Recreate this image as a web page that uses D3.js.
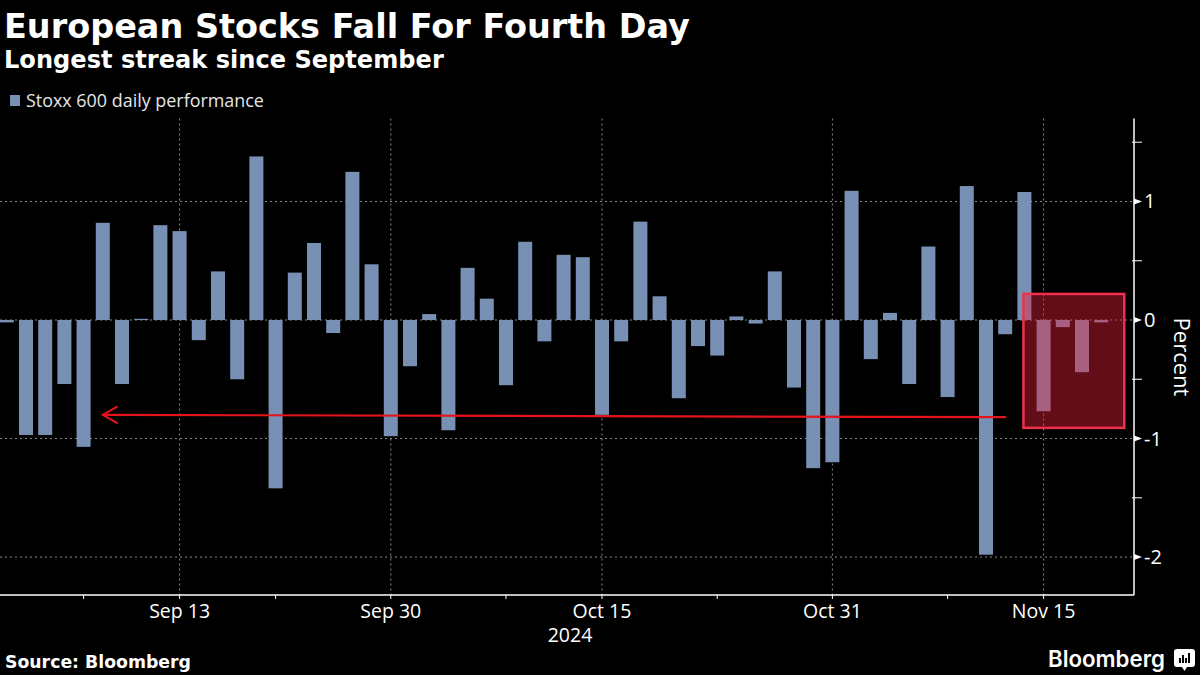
<!DOCTYPE html>
<html>
<head>
<meta charset="utf-8">
<script src="https://cdn.jsdelivr.net/npm/d3@7"></script>
<style>
  html, body { margin: 0; padding: 0; background: #000; }
  svg { display: block; }
</style>
</head>
<body>
<svg id="chart" width="1200" height="675"></svg>
<script>
// ---- Data ----
const dates = [
  "2024-09-02","2024-09-03","2024-09-04","2024-09-05","2024-09-06",
  "2024-09-09","2024-09-10","2024-09-11","2024-09-12","2024-09-13",
  "2024-09-16","2024-09-17","2024-09-18","2024-09-19","2024-09-20",
  "2024-09-23","2024-09-24","2024-09-25","2024-09-26","2024-09-27",
  "2024-09-30",
  "2024-10-01","2024-10-02","2024-10-03","2024-10-04",
  "2024-10-07","2024-10-08","2024-10-09","2024-10-10","2024-10-11",
  "2024-10-14","2024-10-15","2024-10-16","2024-10-17","2024-10-18",
  "2024-10-21","2024-10-22","2024-10-23","2024-10-24","2024-10-25",
  "2024-10-28","2024-10-29","2024-10-30","2024-10-31",
  "2024-11-01","2024-11-04","2024-11-05","2024-11-06","2024-11-07","2024-11-08",
  "2024-11-11","2024-11-12","2024-11-13","2024-11-14","2024-11-15",
  "2024-11-18","2024-11-19","2024-11-20"
];
const stoxx600 = [
  -0.02,-0.97,-0.97,-0.54,-1.07,
  0.82,-0.54,0.01,0.80,0.75,
  -0.17,0.41,-0.50,1.38,-1.42,
  0.40,0.65,-0.11,1.25,0.47,
  -0.98,
  -0.39,0.05,-0.93,0.44,
  0.18,-0.55,0.66,-0.18,0.55,
  0.53,-0.80,-0.18,0.83,0.20,
  -0.66,-0.22,-0.30,0.03,-0.03,
  0.41,-0.57,-1.25,-1.20,
  1.09,-0.33,0.06,-0.54,0.62,-0.65,
  1.13,-1.98,-0.12,1.08,-0.77,
  -0.06,-0.44,-0.02
];
const xMajorTicks = ["2024-09-13","2024-09-30","2024-10-15","2024-10-31","2024-11-15"];
const xMajorLabels = ["Sep 13","Sep 30","Oct 15","Oct 31","Nov 15"];
const xMinorTicks = ["2024-09-06","2024-09-20","2024-10-08","2024-10-23","2024-11-08"];
const yMajorTicks = [1, 0, -1, -2];
const yMinorTicks = [1.5, 0.5, -0.5, -1.5];
const yearLabel = "2024";
// annotation: arrow from the latest streak back to the September streak
const arrowFrom = {date: "2024-11-13", value: -0.82};
const arrowTo = {date: "2024-09-09", value: -0.80};
// highlight box (index span, value span)
const boxSpan = {i0: 52.95, i1: 58.2, v0: 0.22, v1: -0.91};

// ---- Layout ----
const W = 1200, H = 675;
const plotTop = 118.5, plotBottom = 595, plotLeft = 0, plotRight = 1134;
const barColor = "#7790b4";
const gridColor = "#8a8a8a";

const svg = d3.select("#chart");
svg.append("rect").attr("width", W).attr("height", H).attr("fill", "#000");

const idx = new Map(dates.map((d, i) => [d, i]));
const x = d3.scaleLinear().domain([0, dates.length - 1]).range([6.8, 1101.2]);
const y = d3.scaleLinear().domain([-2.32, 1.70]).range([plotBottom, plotTop]);
const barW = 14;

function fit(sel, target) {
  const n = sel.node();
  const w = n.getComputedTextLength();
  const fs = parseFloat(sel.attr("font-size"));
  sel.attr("font-size", fs * target / w);
}

// Titles
const t1 = svg.append("text").attr("x", 4).attr("y", 38)
  .attr("font-family", "DejaVu Sans, Verdana, sans-serif").attr("font-weight", "bold")
  .attr("font-size", 30).attr("fill", "#fff").text("European Stocks Fall For Fourth Day");
fit(t1, 686);
const t2 = svg.append("text").attr("x", 4).attr("y", 68)
  .attr("font-family", "DejaVu Sans, Verdana, sans-serif").attr("font-weight", "bold")
  .attr("font-size", 22).attr("fill", "#fff").text("Longest streak since September");
fit(t2, 440);

// Legend
svg.append("rect").attr("x", 10).attr("y", 95).attr("width", 10).attr("height", 11).attr("fill", barColor);
const lg = svg.append("text").attr("x", 26).attr("y", 107)
  .attr("font-family", "Open Sans, Noto Sans, sans-serif")
  .attr("font-size", 16).attr("fill", "#e6e6e6").text("Stoxx 600 daily performance");
fit(lg, 238);

// Grid
const grid = svg.append("g");
grid.selectAll("line.h").data(yMajorTicks).join("line")
  .attr("x1", plotLeft).attr("x2", plotRight)
  .attr("y1", d => y(d)).attr("y2", d => y(d))
  .attr("stroke", gridColor).attr("stroke-width", 1).attr("stroke-dasharray", "2,3");
grid.selectAll("line.v").data(xMajorTicks).join("line")
  .attr("x1", d => x(idx.get(d))).attr("x2", d => x(idx.get(d)))
  .attr("y1", plotTop).attr("y2", plotBottom)
  .attr("stroke", gridColor).attr("stroke-width", 1).attr("stroke-dasharray", "2,3");

// Bars
svg.append("g").selectAll("rect").data(stoxx600).join("rect")
  .attr("x", (d, i) => x(i) - barW / 2)
  .attr("width", barW)
  .attr("y", d => y(Math.max(0, d)))
  .attr("height", d => Math.abs(y(d) - y(0)))
  .attr("fill", barColor);

// X axis
const xa = svg.append("g");
xa.append("line").attr("x1", plotLeft).attr("x2", plotRight)
  .attr("y1", plotBottom).attr("y2", plotBottom).attr("stroke", "#fff").attr("stroke-width", 1.5);
xa.selectAll("line.t").data(xMajorTicks.concat(xMinorTicks)).join("line")
  .attr("x1", d => x(idx.get(d))).attr("x2", d => x(idx.get(d)))
  .attr("y1", plotBottom).attr("y2", plotBottom + 4)
  .attr("stroke", "#fff").attr("stroke-width", 1);
xa.selectAll("text").data(xMajorTicks).join("text")
  .attr("x", d => x(idx.get(d))).attr("y", 618)
  .attr("text-anchor", "middle")
  .attr("font-family", "Open Sans, Noto Sans, sans-serif")
  .attr("font-size", 19.5).attr("fill", "#fff")
  .text((d, i) => xMajorLabels[i]);
svg.append("text").attr("x", 570).attr("y", 642).attr("text-anchor", "middle")
  .attr("font-family", "Open Sans, Noto Sans, sans-serif")
  .attr("font-size", 19.5).attr("fill", "#fff").text(yearLabel);

// Y axis (right)
const ya = svg.append("g");
ya.append("line").attr("x1", plotRight).attr("x2", plotRight)
  .attr("y1", plotTop).attr("y2", plotBottom).attr("stroke", "#fff").attr("stroke-width", 1.5);
ya.selectAll("path").data(yMajorTicks).join("path")
  .attr("d", d => `M${plotRight},${y(d) - 3}L${plotRight + 8},${y(d)}L${plotRight},${y(d) + 3}Z`)
  .attr("fill", "#fff");
ya.selectAll("line.m").data(yMinorTicks).join("line")
  .attr("x1", plotRight - 2).attr("x2", plotRight + 8)
  .attr("y1", d => y(d)).attr("y2", d => y(d))
  .attr("stroke", "#fff").attr("stroke-width", 1);
ya.selectAll("text").data(yMajorTicks).join("text")
  .attr("x", plotRight + 10).attr("y", d => y(d))
  .attr("dy", "0.35em")
  .attr("font-family", "Open Sans, Noto Sans, sans-serif")
  .attr("font-size", 20).attr("fill", "#fff")
  .text(d => d < 0 ? "-" + Math.abs(d) : String(d));
svg.append("text")
  .attr("transform", `translate(1174,357) rotate(90)`)
  .attr("text-anchor", "middle")
  .attr("font-family", "Open Sans, Noto Sans, sans-serif")
  .attr("font-size", 22).attr("fill", "#fff").text("Percent");

// Arrow annotation
const ax1 = x(idx.get(arrowFrom.date)), ay1 = y(arrowFrom.value);
const ax2 = x(idx.get(arrowTo.date)), ay2 = y(arrowTo.value);
const ann = svg.append("g").attr("stroke", "#e5141c").attr("stroke-width", 2.2)
  .attr("fill", "none").attr("stroke-linecap", "round").attr("stroke-linejoin", "round");
ann.append("line").attr("x1", ax1).attr("y1", ay1).attr("x2", ax2).attr("y2", ay2);
ann.append("path").attr("d", `M${ax2 + 14},${ay2 - 8}L${ax2},${ay2}L${ax2 + 14},${ay2 + 8}`);

// Highlight box
svg.append("rect")
  .attr("x", x(boxSpan.i0)).attr("width", x(boxSpan.i1) - x(boxSpan.i0))
  .attr("y", y(boxSpan.v0)).attr("height", y(boxSpan.v1) - y(boxSpan.v0))
  .attr("fill", "rgba(235,30,60,0.42)")
  .attr("stroke", "#f0304b").attr("stroke-width", 2.5);

// Footer
const src = svg.append("text").attr("x", 5).attr("y", 668)
  .attr("font-family", "DejaVu Sans, Verdana, sans-serif").attr("font-weight", "bold")
  .attr("font-size", 16).attr("fill", "#fff").text("Source: Bloomberg");
fit(src, 186);
const bl = svg.append("text").attr("x", 1048).attr("y", 667)
  .attr("font-family", "Inter, Roboto, sans-serif").attr("font-weight", 600)
  .attr("font-size", 22).attr("fill", "#fff").text("Bloomberg");
fit(bl, 117);
// logo mark
const lgo = svg.append("g").attr("transform", "translate(1174,649)");
lgo.append("rect").attr("width", 21).attr("height", 18).attr("rx", 3).attr("fill", "#fff");
lgo.append("path").attr("d", "M8,18L10.5,22L13,18Z").attr("fill", "#fff");
[[5,9,2],[8,6,2],[11,9,2],[14,4,2]].forEach(([bx, by, bw]) => {
  lgo.append("rect").attr("x", bx).attr("y", by).attr("width", bw).attr("height", 14 - by).attr("fill", "#000");
});
</script>
</body>
</html>
